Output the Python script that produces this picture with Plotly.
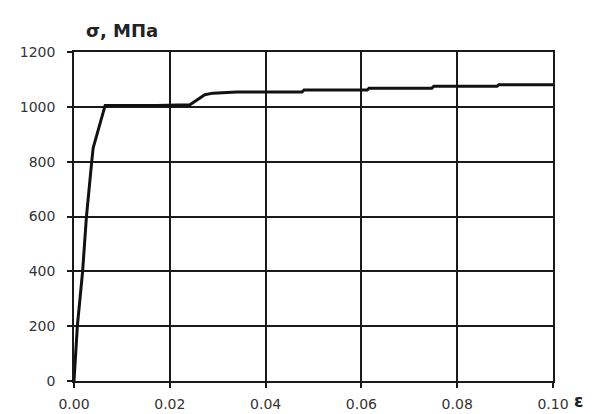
import plotly.graph_objects as go

strain = [0.0, 0.0007, 0.0018, 0.0026, 0.0037, 0.0040, 0.0065, 0.0173, 0.0242,
          0.0273, 0.0290, 0.0340, 0.0476, 0.0480, 0.0612, 0.0616, 0.0747, 0.0751,
          0.0883, 0.0887, 0.1000]
stress = [0, 200, 400, 600, 800, 850, 1005, 1005, 1008,
          1044, 1050, 1054, 1054, 1061, 1061, 1068, 1068, 1075,
          1075, 1081, 1081]

x_ticks = [0.0, 0.02, 0.04, 0.06, 0.08, 0.10]
y_ticks = [0, 200, 400, 600, 800, 1000, 1200]

fig = go.Figure()
fig.add_trace(go.Scatter(x=strain, y=stress, mode="lines",
                         line=dict(color="#111111", width=3), showlegend=False,
                         cliponaxis=False))

axis_common = dict(showgrid=True, gridcolor="#1a1a1a", gridwidth=1.5,
                   showline=True, linecolor="#1a1a1a", linewidth=1.5, mirror=True,
                   ticks="outside", ticklen=5, tickcolor="#1a1a1a", tickwidth=1.5,
                   zeroline=False, automargin=False,
                   tickfont=dict(family="DejaVu Sans, Arial", size=14, color="#333333"))

fig.update_layout(
    width=590, height=406,
    margin=dict(l=66, r=45, t=44, b=33),
    paper_bgcolor="white", plot_bgcolor="white",
    xaxis=dict(range=[0, 0.1], tickvals=x_ticks, tickformat=".2f",
               ticklabelstandoff=4, **axis_common),
    yaxis=dict(range=[0, 1200], tickvals=y_ticks, ticklabelstandoff=9, **axis_common),
    annotations=[
        dict(text="<b>σ, МПа</b>", xref="paper", yref="paper", x=0.02, y=1.064,
             xanchor="left", yanchor="middle", showarrow=False,
             font=dict(family="DejaVu Sans, Arial", size=18, color="#222222")),
        dict(text="<b>ε</b>", xref="paper", yref="paper", x=1.04, y=-0.062,
             xanchor="left", yanchor="middle", showarrow=False,
             font=dict(family="DejaVu Sans, Arial", size=17, color="#222222")),
    ],
)

fig.write_html("out.html")
